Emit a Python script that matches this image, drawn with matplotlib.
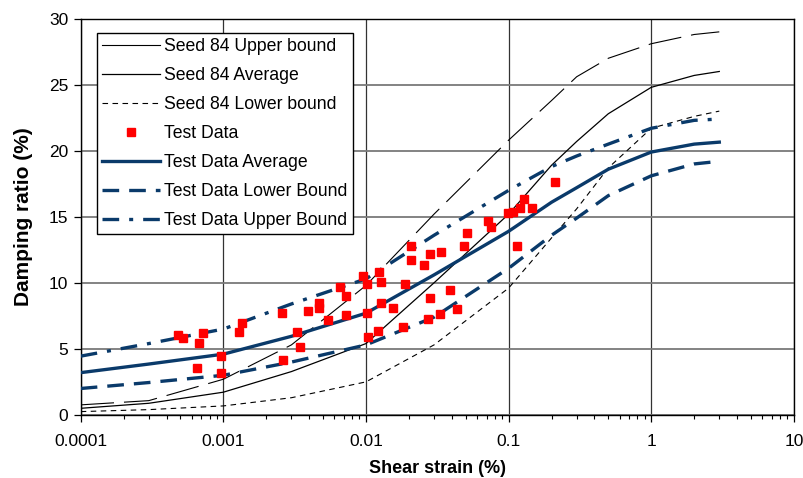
import matplotlib
matplotlib.use("Agg")
import matplotlib.pyplot as plt
from matplotlib.ticker import LogLocator, FixedLocator, NullFormatter

plt.rcParams['font.family'] = ['Liberation Sans', 'DejaVu Sans']

# Shear strain (%) for the reference curves
strain = [0.0001, 0.0003, 0.001, 0.003, 0.01, 0.03, 0.1, 0.2, 0.3, 0.5, 1, 2, 3]

seed_upper = [0.76, 1.08, 2.7, 5.3, 9.8, 15.2, 20.8, 23.8, 25.6, 27.0, 28.1, 28.8, 29.0]
seed_avg = [0.5, 0.88, 1.72, 3.28, 5.4, 10.0, 15.2, 18.9, 20.7, 22.8, 24.8, 25.7, 26.0]
seed_lower = [0.25, 0.4, 0.68, 1.3, 2.5, 5.3, 9.6, 13.4, 15.6, 18.7, 21.7, 22.6, 23.0]

test_avg = [3.2, 3.85, 4.6, 5.95, 7.7, 10.6, 13.9, 16.1, 17.2, 18.6, 19.9, 20.5, 20.65]
test_lower = [2.0, 2.45, 3.0, 4.0, 5.3, 7.4, 11.1, 13.6, 14.9, 16.6, 18.1, 19.0, 19.2]
test_upper = [4.45, 5.4, 6.5, 8.4, 10.3, 13.6, 17.0, 18.8, 19.6, 20.5, 21.7, 22.3, 22.4]

# Measured damping ratios
test_strain = [0.00048, 0.00052, 0.00072, 0.00068, 0.00065, 0.00097, 0.00097,
               0.00135, 0.00128, 0.00256, 0.00327, 0.00263, 0.00394, 0.0047,
               0.0047, 0.0066, 0.0073, 0.0054, 0.0073, 0.00345, 0.0095, 0.0124,
               0.0101, 0.0127, 0.0127, 0.0101, 0.0104, 0.0121, 0.0206, 0.0281,
               0.0334, 0.0206, 0.0256, 0.0509, 0.049, 0.0188, 0.0389, 0.0281,
               0.0154, 0.0437, 0.0331, 0.0274, 0.0181, 0.212, 0.129, 0.120,
               0.145, 0.0996, 0.107, 0.0714, 0.075, 0.114]
test_damping = [6.05, 5.8, 6.23, 5.42, 3.55, 4.49, 3.16,
                6.94, 6.30, 7.69, 6.30, 4.16, 7.89, 8.49,
                8.07, 9.66, 9.02, 7.18, 7.56, 5.12, 10.51, 10.79,
                9.88, 10.06, 8.49, 7.69, 5.92, 6.35, 12.78, 12.17,
                12.35, 11.72, 11.34, 13.74, 12.78, 9.91, 9.45, 8.83,
                8.11, 8.02, 7.62, 7.26, 6.68, 17.64, 16.31, 15.67,
                15.67, 15.30, 15.33, 14.67, 14.24, 12.78]

x_ticks = [0.0001, 0.001, 0.01, 0.1, 1, 10]
x_tick_labels = ["0.0001", "0.001", "0.01", "0.1", "1", "10"]
y_ticks = [0, 5, 10, 15, 20, 25, 30]

navy = '#0a3a6a'

fig = plt.figure(figsize=(8.04, 4.78), dpi=100)
ax = fig.add_axes([0.1004, 0.132, 0.887, 0.829])

ax.plot(strain, seed_upper, color='black', lw=0.8, dashes=(30, 9),
        label='Seed 84 Upper bound')
ax.plot(strain, seed_avg, color='black', lw=0.9, label='Seed 84 Average')
ax.plot(strain, seed_lower, color='black', lw=0.8, dashes=(5, 4),
        label='Seed 84 Lower bound')
ax.plot(test_strain, test_damping, ls='none', marker='s', ms=6.3,
        color='#ff0000', mec='#ff0000', label='Test Data', zorder=4)
ax.plot(strain, test_avg, color=navy, lw=2.4, label='Test Data Average',
        zorder=3)
ax.plot(strain, test_lower, color=navy, lw=2.4, dashes=(5, 3),
        label='Test Data Lower Bound', zorder=3)
ax.plot(strain, test_upper, color=navy, lw=2.4, dashes=(5, 3, 1.2, 3),
        label='Test Data Upper Bound', zorder=3)

ax.set_xscale('log')
ax.set_xlim(0.0001, 10)
ax.set_ylim(0, 30)
ax.xaxis.set_major_locator(FixedLocator(x_ticks))
ax.set_xticklabels(x_tick_labels)
ax.xaxis.set_minor_locator(LogLocator(base=10, subs=range(2, 10), numticks=20))
ax.xaxis.set_minor_formatter(NullFormatter())
ax.set_yticks(y_ticks)

ax.tick_params(axis='both', which='major', direction='out', length=5,
               width=0.9, labelsize=12.5, colors='black')
ax.tick_params(axis='x', which='minor', direction='out', length=3, width=0.8)
ax.tick_params(axis='x', pad=9)
ax.tick_params(axis='y', pad=4)

ax.grid(True, axis='x', which='major', color='#333333', lw=0.9)
ax.grid(True, axis='y', which='major', color='#7a7a7a', lw=1.3)
ax.set_axisbelow(True)
for s in ax.spines.values():
    s.set_color('black')
    s.set_linewidth(1.0)

ax.set_xlabel('Shear strain (%)', fontsize=13, fontweight='bold', labelpad=8)
ax.set_ylabel('Damping ratio (%)', fontsize=15, fontweight='bold', labelpad=11)

leg = ax.legend(loc='upper left', bbox_to_anchor=(0.023, 0.965), fontsize=12.7,
                frameon=True, fancybox=False, edgecolor='black',
                framealpha=1, handlelength=3.25, labelspacing=0.68,
                borderpad=0.3, handletextpad=0.25, borderaxespad=0)
leg.get_frame().set_linewidth(1.0)
# the long-dash key reads as one unbroken stroke
leg.get_lines()[0].set_linestyle('-')

fig.savefig('out.png', dpi=100)
